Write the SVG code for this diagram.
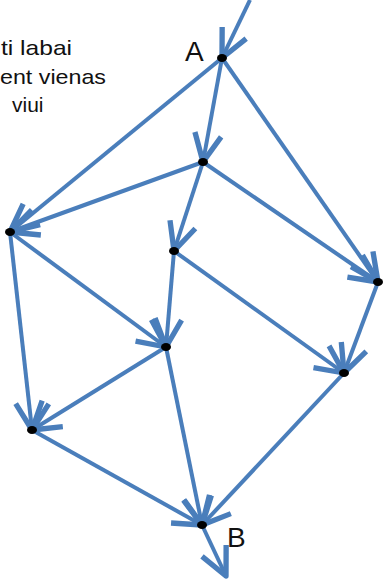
<svg xmlns="http://www.w3.org/2000/svg" width="385" height="581" viewBox="0 0 385 581">
<defs>
<marker id="ah" markerUnits="userSpaceOnUse" markerWidth="40" markerHeight="40" refX="0" refY="0" viewBox="-25 -15 30 30" orient="auto" overflow="visible">
<path d="M-21,-10 L0,0 L-21,10" fill="none" stroke="#4a7ebb" stroke-width="4" stroke-linecap="butt" stroke-linejoin="round"/>
</marker>
</defs>
<style>
.e{stroke:#4a7ebb;stroke-width:4;fill:none;marker-end:url(#ah)}
.n{fill:#000}
.t{font-family:"Liberation Sans",Arial,sans-serif;font-size:21px;fill:#111}
.lbl{font-family:"Liberation Sans",Arial,sans-serif;font-size:28px;fill:#111}
</style>
<rect width="385" height="581" fill="#fff"/>
<g id="caption">
<text class="t" x="1" y="55" textLength="71" lengthAdjust="spacingAndGlyphs">ti labai</text>
<text class="t" x="0" y="84" textLength="106" lengthAdjust="spacingAndGlyphs">ent vienas</text>
<text class="t" x="12" y="112">viui</text>
</g>
<g id="connectors">
<line class="e" x1="250" y1="0" x2="222" y2="58"/>
<line class="e" x1="222" y1="58" x2="10" y2="232"/>
<line class="e" x1="222" y1="58" x2="203" y2="162"/>
<line class="e" x1="222" y1="58" x2="378" y2="282"/>
<line class="e" x1="203" y1="162" x2="10" y2="232"/>
<line class="e" x1="203" y1="162" x2="174" y2="251"/>
<line class="e" x1="203" y1="162" x2="378" y2="282"/>
<line class="e" x1="10" y1="232" x2="166" y2="347"/>
<line class="e" x1="10" y1="232" x2="32" y2="430"/>
<line class="e" x1="174" y1="251" x2="166" y2="347"/>
<line class="e" x1="174" y1="251" x2="344" y2="373"/>
<line class="e" x1="378" y1="282" x2="344" y2="373"/>
<line class="e" x1="166" y1="347" x2="32" y2="430"/>
<line class="e" x1="166" y1="347" x2="202" y2="525"/>
<line class="e" x1="32" y1="430" x2="202" y2="525"/>
<line class="e" x1="344" y1="373" x2="202" y2="525"/>
<line class="e" x1="202" y1="525" x2="226" y2="576"/>
</g>
<g id="A"><ellipse class="n" cx="222" cy="58" rx="5" ry="4"/><text class="lbl" x="185" y="61">A</text></g>
<g id="n1"><ellipse class="n" cx="203" cy="162" rx="5" ry="4"/></g>
<g id="n2"><ellipse class="n" cx="10" cy="232" rx="5" ry="4"/></g>
<g id="n3"><ellipse class="n" cx="174" cy="251" rx="5" ry="4"/></g>
<g id="n4"><ellipse class="n" cx="378" cy="282" rx="5" ry="4"/></g>
<g id="n5"><ellipse class="n" cx="166" cy="347" rx="5" ry="4"/></g>
<g id="n6"><ellipse class="n" cx="344" cy="373" rx="5" ry="4"/></g>
<g id="n7"><ellipse class="n" cx="32" cy="430" rx="5" ry="4"/></g>
<g id="B"><ellipse class="n" cx="202" cy="525" rx="5" ry="4"/><text class="lbl" x="227" y="547">B</text></g>
</svg>
